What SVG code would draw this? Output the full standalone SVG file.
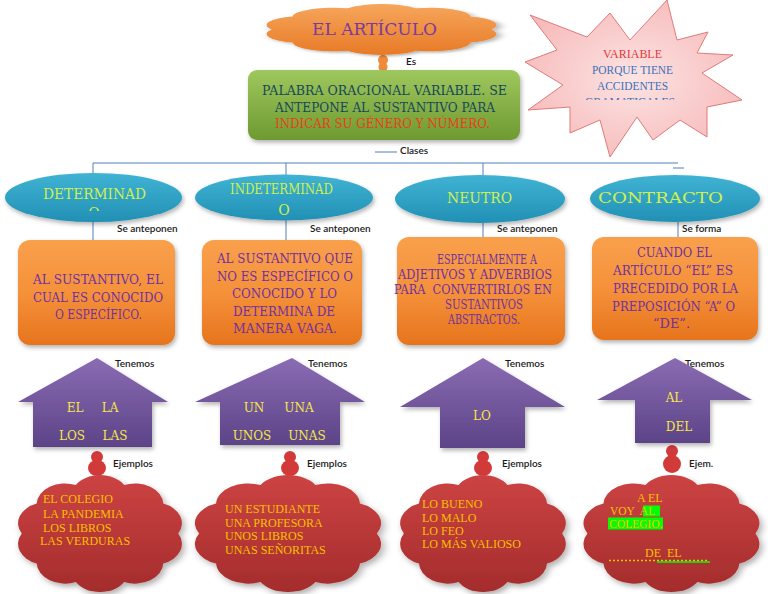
<svg xmlns="http://www.w3.org/2000/svg" width="768" height="594" viewBox="0 0 768 594">
<style>
.lbl{font-family:Lato,"Liberation Sans",sans-serif;font-size:10px;font-weight:600;fill:#1a1a1a}
.slab{font-family:"DejaVu Serif",serif}
.ell{fill:url(#gBlue);filter:url(#sh)}
.ellt{fill:#cdf04e;font-size:14px}
.box{fill:url(#gOrange);filter:url(#sh)}
.boxt{fill:#7030a0;font-size:13px}
.arr{fill:url(#gPurple);filter:url(#sh)}
.arrt{fill:#f5e64a;font-size:12px}
.cld{fill:url(#gRed);filter:url(#sh)}
.cldt{font-family:"Liberation Serif",serif;font-size:12px;fill:#f7c000}
.con{stroke:#4f81bd;stroke-width:1;fill:none}
.blob{fill:#d23a3a}
</style>
<defs>
<linearGradient id="gBlue" x1="0" y1="0" x2="0" y2="1"><stop offset="0" stop-color="#40b3d4"/><stop offset="1" stop-color="#2190b4"/></linearGradient>
<linearGradient id="gOrange" x1="0" y1="0" x2="0" y2="1"><stop offset="0" stop-color="#f9a04c"/><stop offset="0.5" stop-color="#f5913a"/><stop offset="1" stop-color="#e7741d"/></linearGradient>
<linearGradient id="gGreen" x1="0" y1="0" x2="0" y2="1"><stop offset="0" stop-color="#9fc75e"/><stop offset="1" stop-color="#6e9a31"/></linearGradient>
<linearGradient id="gPurple" x1="0" y1="0" x2="0" y2="1"><stop offset="0" stop-color="#8a6cb3"/><stop offset="1" stop-color="#5c4387"/></linearGradient>
<linearGradient id="gRed" x1="0" y1="0" x2="0" y2="1"><stop offset="0" stop-color="#cd4343"/><stop offset="1" stop-color="#a42c2c"/></linearGradient>
<linearGradient id="gTitle" x1="0" y1="0" x2="0" y2="1"><stop offset="0" stop-color="#f6a65c"/><stop offset="1" stop-color="#e87a26"/></linearGradient>
<radialGradient id="gStar" cx="0.5" cy="0.5" r="0.6"><stop offset="0" stop-color="#fde3e3"/><stop offset="1" stop-color="#f6b8b8"/></radialGradient>
<filter id="sh" x="-10%" y="-10%" width="130%" height="140%"><feDropShadow dx="1.5" dy="2.5" stdDeviation="2" flood-color="#000" flood-opacity="0.3"/></filter>
<clipPath id="clipStar"><rect x="520" y="0" width="248" height="100"/></clipPath>
<clipPath id="clipDet"><rect x="0" y="150" width="200" height="61"/></clipPath>
<path id="cloudShape" d="M94,50 A16,16 0 0 1 85.6,72.9 A16,16 0 0 1 63.6,87.1 A16,16 0 0 1 36.4,87.1 A16,16 0 0 1 14.4,72.9 A16,16 0 0 1 6,50 A16,16 0 0 1 14.4,27.1 A16,16 0 0 1 36.4,12.9 A16,16 0 0 1 63.6,12.9 A16,16 0 0 1 85.6,27.1 A16,16 0 0 1 94,50 Z"/>
</defs>
<rect width="768" height="594" fill="#fff"/>

<g id="connectors">
<path class="con" d="M93,163 H678 M93,163 V173 M286,163 V177 M483,163 V175 M673,168 H684 M375,152 H397"/>
<path class="con" d="M93,222 V240 M286,220 V240 M483,223 V237 M678,222 V237"/>
<g fill="#ee8a3a"><circle cx="383" cy="60" r="5"/><ellipse cx="383" cy="67" rx="4.5" ry="5"/></g>
<g class="blob"><circle cx="97" cy="457" r="6"/><ellipse cx="97" cy="468" rx="9" ry="8"/><circle cx="290" cy="457" r="6"/><ellipse cx="290" cy="468" rx="9" ry="8"/><circle cx="483" cy="457" r="6"/><ellipse cx="483" cy="468" rx="9" ry="8"/><circle cx="672" cy="451" r="6"/><ellipse cx="672" cy="464" rx="9" ry="9"/></g>
<text class="lbl" x="406" y="65" font-size="9">Es</text>
<text class="lbl" x="400" y="154">Clases</text>
<text class="lbl" x="117" y="232">Se anteponen</text>
<text class="lbl" x="310" y="232">Se anteponen</text>
<text class="lbl" x="497" y="232">Se anteponen</text>
<text class="lbl" x="682" y="232">Se forma</text>
<text class="lbl" x="115" y="367">Tenemos</text>
<text class="lbl" x="308" y="367">Tenemos</text>
<text class="lbl" x="505" y="367">Tenemos</text>
<text class="lbl" x="685" y="367">Tenemos</text>
<text class="lbl" x="113" y="467">Ejemplos</text>
<text class="lbl" x="307" y="467">Ejemplos</text>
<text class="lbl" x="502" y="467">Ejemplos</text>
<text class="lbl" x="689" y="467">Ejem.</text>
</g>

<g id="title">
<use href="#cloudShape" transform="translate(256.8,1) scale(2.495,0.57)" fill="url(#gTitle)" filter="url(#sh)"/>
<text class="slab" x="312" y="35" font-size="17" fill="#7a3aa0" textLength="125" lengthAdjust="spacingAndGlyphs">EL ARTÍCULO</text>
</g>

<g id="definicion">
<rect x="248" y="70" width="272" height="70" rx="9" fill="url(#gGreen)" filter="url(#sh)"/>
<g class="slab" font-size="13">
<text x="262" y="95" fill="#17475a" textLength="245" lengthAdjust="spacingAndGlyphs">PALABRA ORACIONAL VARIABLE. SE</text>
<text x="275" y="112" fill="#17475a" textLength="220" lengthAdjust="spacingAndGlyphs">ANTEPONE AL SUSTANTIVO PARA</text>
<text x="275" y="128" fill="#e8401a" textLength="215" lengthAdjust="spacingAndGlyphs">INDICAR SU GÉNERO Y NÚMERO.</text>
</g>
</g>

<g id="variable">
<polygon points="667,0 677,40 708,32 697,53 733,55 702,73 742,100 707,107 707,137 680,120 653,140 637,117 610,157 600,120 570,133 570,107 528,110 563,85 525,62 557,50 530,15 587,37 610,13 630,40" fill="url(#gStar)" stroke="#e07a7a" stroke-width="1"/>
<g font-family="Liberation Serif, serif" font-size="13">
<text x="603" y="58" fill="#e03a3a" textLength="59" lengthAdjust="spacingAndGlyphs">VARIABLE</text>
<text x="592" y="74" fill="#3a72b8" textLength="81" lengthAdjust="spacingAndGlyphs">PORQUE TIENE</text>
<text x="597" y="90" fill="#3a72b8" textLength="71" lengthAdjust="spacingAndGlyphs">ACCIDENTES</text>
<text x="585" y="106" fill="#3a72b8" textLength="90" lengthAdjust="spacingAndGlyphs" clip-path="url(#clipStar)">GRAMATICALES</text>
</g>
</g>

<g id="determinado">
<ellipse class="ell" cx="93.5" cy="197.5" rx="88.5" ry="24.5"/>
<text class="slab ellt" x="43" y="199" textLength="103" lengthAdjust="spacingAndGlyphs">DETERMINAD</text>
<text class="slab ellt" x="94" y="218" text-anchor="middle" clip-path="url(#clipDet)">O</text>
</g>
<g id="indeterminado">
<ellipse class="ell" cx="284" cy="197.5" rx="89" ry="23"/>
<text class="slab ellt" x="230" y="194" font-size="13" textLength="103" lengthAdjust="spacingAndGlyphs">INDETERMINAD</text>
<text class="slab ellt" x="284" y="215" font-size="13" text-anchor="middle">O</text>
</g>
<g id="neutro">
<ellipse class="ell" cx="480" cy="199" rx="85" ry="24"/>
<text class="slab ellt" x="447" y="203" textLength="65" lengthAdjust="spacingAndGlyphs">NEUTRO</text>
</g>
<g id="contracto">
<ellipse class="ell" cx="675" cy="198.5" rx="85" ry="23.5"/>
<text class="slab ellt" x="598" y="203" textLength="125" lengthAdjust="spacingAndGlyphs">CONTRACTO</text>
</g>

<g id="def-determinado">
<rect class="box" x="18" y="240" width="157" height="105" rx="12"/>
<g class="slab boxt">
<text x="33" y="284" textLength="130" lengthAdjust="spacingAndGlyphs">AL SUSTANTIVO, EL</text>
<text x="33" y="302" textLength="130" lengthAdjust="spacingAndGlyphs">CUAL ES CONOCIDO</text>
<text x="55" y="319" textLength="87" lengthAdjust="spacingAndGlyphs">O ESPECÍFICO.</text>
</g>
</g>
<g id="def-indeterminado">
<rect class="box" x="202" y="240" width="160" height="105" rx="12"/>
<g class="slab boxt">
<text x="217" y="263" textLength="136" lengthAdjust="spacingAndGlyphs">AL SUSTANTIVO QUE</text>
<text x="217" y="281" textLength="136" lengthAdjust="spacingAndGlyphs">NO ES ESPECÍFICO O</text>
<text x="232" y="298" textLength="105" lengthAdjust="spacingAndGlyphs">CONOCIDO Y LO</text>
<text x="233" y="316" textLength="102" lengthAdjust="spacingAndGlyphs">DETERMINA DE</text>
<text x="233" y="333" textLength="104" lengthAdjust="spacingAndGlyphs">MANERA VAGA.</text>
</g>
</g>
<g id="def-neutro">
<rect class="box" x="397" y="237" width="168" height="108" rx="12"/>
<g class="slab boxt" font-size="11">
<text x="437" y="264" textLength="100" lengthAdjust="spacingAndGlyphs">ESPECIALMENTE A</text>
<text x="398" y="279" textLength="154" lengthAdjust="spacingAndGlyphs">ADJETIVOS Y ADVERBIOS</text>
<text x="394" y="294" textLength="158" lengthAdjust="spacingAndGlyphs" xml:space="preserve">PARA  CONVERTIRLOS EN</text>
<text x="445" y="309" textLength="78" lengthAdjust="spacingAndGlyphs">SUSTANTIVOS</text>
<text x="448" y="324" textLength="72" lengthAdjust="spacingAndGlyphs">ABSTRACTOS.</text>
</g>
</g>
<g id="def-contracto">
<rect class="box" x="592" y="237" width="166" height="103" rx="12"/>
<g class="slab boxt">
<text x="637" y="257" textLength="75" lengthAdjust="spacingAndGlyphs">CUANDO EL</text>
<text x="613" y="275" textLength="120" lengthAdjust="spacingAndGlyphs">ARTÍCULO “EL” ES</text>
<text x="613" y="293" textLength="125" lengthAdjust="spacingAndGlyphs">PRECEDIDO POR LA</text>
<text x="612" y="311" textLength="123" lengthAdjust="spacingAndGlyphs">PREPOSICIÓN “A” O</text>
<text x="653" y="328" textLength="37" lengthAdjust="spacingAndGlyphs">“DE”.</text>
</g>
</g>

<g id="formas-determinado">
<polygon class="arr" points="97,358 168,402 152,402 152,447 33,447 33,402 18,402"/>
<g class="slab arrt" text-anchor="middle">
<text x="75" y="412">EL</text><text x="110" y="412">LA</text>
<text x="72" y="440">LOS</text><text x="115" y="440">LAS</text>
</g>
</g>
<g id="formas-indeterminado">
<polygon class="arr" points="292,358 365,402 340,402 340,445 220,445 220,402 195,402"/>
<g class="slab arrt" text-anchor="middle">
<text x="254" y="412">UN</text><text x="299" y="412">UNA</text>
<text x="252" y="440">UNOS</text><text x="307" y="440">UNAS</text>
</g>
</g>
<g id="formas-neutro">
<polygon class="arr" points="483,358 565,407 525,407 525,448 440,448 440,407 400,407"/>
<text class="slab arrt" x="482" y="420" text-anchor="middle">LO</text>
</g>
<g id="formas-contracto">
<polygon class="arr" points="675,358 752,400 710,400 710,443 635,443 635,400 597,400"/>
<g class="slab arrt" text-anchor="middle">
<text x="674" y="402">AL</text>
<text x="679" y="431">DEL</text>
</g>
</g>

<g id="ejemplos-determinado">
<use class="cld" href="#cloudShape" transform="translate(11.1,468.1) scale(1.778,1.309)"/>
<g class="cldt">
<text x="43" y="503">EL COLEGIO</text>
<text x="43" y="518">LA PANDEMIA</text>
<text x="43" y="532">LOS LIBROS</text>
<text x="40" y="545">LAS VERDURAS</text>
</g>
</g>
<g id="ejemplos-indeterminado">
<use class="cld" href="#cloudShape" transform="translate(187,468.1) scale(2.02,1.309)"/>
<g class="cldt">
<text x="225" y="513">UN ESTUDIANTE</text>
<text x="225" y="527">UNA PROFESORA</text>
<text x="225" y="540">UNOS LIBROS</text>
<text x="225" y="554">UNAS SEÑORITAS</text>
</g>
</g>
<g id="ejemplos-neutro">
<use class="cld" href="#cloudShape" transform="translate(393.1,468.1) scale(1.798,1.309)"/>
<g class="cldt">
<text x="422" y="508">LO BUENO</text>
<text x="422" y="522">LO MALO</text>
<text x="422" y="535">LO FEO</text>
<text x="422" y="548">LO MÁS VALIOSO</text>
</g>
</g>
<g id="ejemplos-contracto">
<use class="cld" href="#cloudShape" transform="translate(576,468.1) scale(1.909,1.309)"/>
<rect x="643" y="505.5" width="17" height="11" fill="#00ff00"/>
<rect x="608" y="517.5" width="55" height="12" fill="#00ff00"/>
<g class="cldt">
<text x="637" y="502">A EL</text>
<text x="610" y="514.5" font-size="11.5" xml:space="preserve">VOY  AL</text>
<text x="609" y="528" font-size="11.5">COLEGIO.</text>
<text x="645" y="557" xml:space="preserve">DE  EL</text>
</g>
<line x1="609" y1="560.5" x2="708" y2="560.5" stroke="#f7c000" stroke-width="1.5" stroke-dasharray="2 2"/>
<line x1="657" y1="562" x2="710" y2="562" stroke="#00ff00" stroke-width="1.5"/>
</g>
</svg>
